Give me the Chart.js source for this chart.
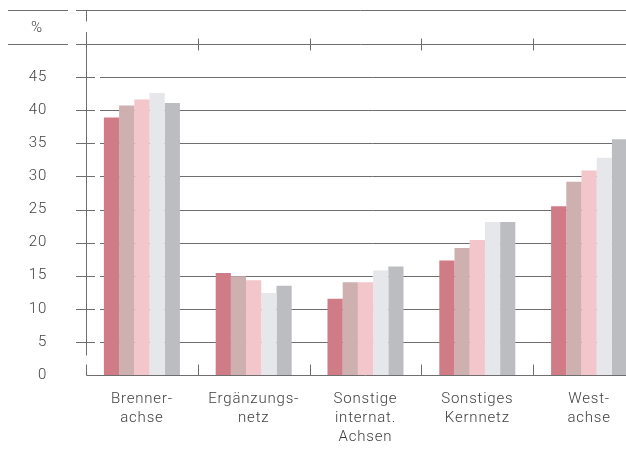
<!DOCTYPE html>
<html lang="de">
  <head>
    <meta charset="UTF-8" />
    <title>Anteile nach Achsen</title>
    <script src="https://cdn.jsdelivr.net/npm/chart.js"></script>
    <style>
      html, body { margin: 0; padding: 0; background: #fff; overflow: hidden; }
      #wrap { width: 645px; height: 454px; }
    </style>
  </head>
  <body>
    <div id="wrap"><canvas id="chart" width="645" height="454"></canvas></div>
    <script>
      // categories and series (five bars per group)
      const categories = [
        ['Brenner-', 'achse'],
        ['Ergänzungs-', 'netz'],
        ['Sonstige', 'internat.', 'Achsen'],
        ['Sonstiges', 'Kernnetz'],
        ['West-', 'achse']
      ];
      const series1 = [38.9, 15.4, 11.5, 17.3, 25.5];
      const series2 = [40.7, 14.9, 14.0, 19.2, 29.2];
      const series3 = [41.6, 14.3, 14.0, 20.4, 30.9];
      const series4 = [42.6, 12.4, 15.8, 23.1, 32.8];
      const series5 = [41.1, 13.5, 16.4, 23.1, 35.6];
      const yTicks = [0, 5, 10, 15, 20, 25, 30, 35, 40, 45];
      const unitLabel = '%';

      const colors = ['#d07c87', '#cfb0b1', '#f2c6ca', '#e6e7ea', '#bcbdc1'];
      const lineColor = '#6e6e6e';
      const textColor = '#3f3f3f';

      // rules, axis breaks and category separators
      const framePlugin = {
        id: 'frame',
        beforeDraw(chart) {
          chart.ctx.letterSpacing = '0.8px';
        },
        beforeDatasetsDraw(chart) {
          const ctx = chart.ctx, y = chart.scales.y, a = chart.chartArea;
          ctx.save();
          ctx.strokeStyle = lineColor;
          ctx.lineWidth = 1;
          ctx.beginPath();
          yTicks.forEach(v => {
            if (v === 0) return;
            const py = Math.round(y.getPixelForValue(v)) + 0.5;
            ctx.moveTo(a.left - 10, py); ctx.lineTo(a.left + 9, py);
            ctx.moveTo(a.left + 14, py); ctx.lineTo(chart.width, py);
          });
          ctx.stroke();
          ctx.restore();
        },
        afterDatasetsDraw(chart) {
          const ctx = chart.ctx, x = chart.scales.x, a = chart.chartArea;
          const left = Math.round(a.left) + 0.5;
          const top = Math.round(a.top) + 0.5;
          const bottom = Math.round(a.bottom) + 0.5;
          const rule0 = top - 34;
          ctx.save();
          ctx.strokeStyle = lineColor;
          ctx.lineWidth = 1;
          ctx.beginPath();
          [rule0, top].forEach(py => {
            ctx.moveTo(8, py); ctx.lineTo(68, py);
            ctx.moveTo(76, py); ctx.lineTo(chart.width, py);
          });
          // y axis with breaks
          ctx.moveTo(left, rule0); ctx.lineTo(left, rule0 + 11);
          ctx.moveTo(left, top - 12.5); ctx.lineTo(left, bottom - 20);
          ctx.moveTo(left, bottom - 11); ctx.lineTo(left, bottom);
          // baseline
          ctx.moveTo(left, bottom); ctx.lineTo(chart.width, bottom);
          // category separators
          const step = (a.right - a.left) / categories.length;
          for (let i = 1; i < categories.length; i++) {
            const px = Math.round(x.getPixelForValue(i) - step / 2) + 0.5;
            ctx.moveTo(px, top - 6); ctx.lineTo(px, top + 6);
            ctx.moveTo(px, bottom - 11); ctx.lineTo(px, bottom);
          }
          ctx.stroke();
          ctx.fillStyle = textColor;
          ctx.font = '300 15px Roboto';
          ctx.textAlign = 'center';
          ctx.textBaseline = 'middle';
          ctx.fillText(unitLabel, 37, 28);
          ctx.restore();
        }
      };

      new Chart(document.getElementById('chart'), {
        type: 'bar',
        data: {
          labels: categories,
          datasets: [series1, series2, series3, series4, series5].map((d, i) => ({
            data: d,
            backgroundColor: colors[i],
            borderWidth: 0,
            categoryPercentage: 0.68,
            barPercentage: 1.0
          }))
        },
        options: {
          responsive: false,
          animation: false,
          layout: { padding: { top: 44, left: 0, right: 0, bottom: 0 } },
          plugins: { legend: { display: false }, tooltip: { enabled: false } },
          scales: {
            x: {
              grid: { display: false, drawTicks: false },
              border: { display: false },
              ticks: {
                color: textColor,
                padding: 14.5,
                maxRotation: 0,
                autoSkip: false,
                font: { family: 'Roboto', size: 15, weight: '300', lineHeight: 1.27 }
              },
              afterFit(scale) { scale.height = 79; scale.paddingLeft = 0; scale.paddingRight = 0; }
            },
            y: {
              min: 0,
              max: 50,
              grid: { display: false, drawTicks: false },
              border: { display: false },
              ticks: {
                stepSize: 5,
                color: textColor,
                padding: 39,
                font: { family: 'Roboto', size: 15, weight: '300' },
                callback: v => (yTicks.includes(v) ? String(v) : '')
              },
              afterFit(scale) { scale.width = 86; scale.paddingTop = 0; scale.paddingBottom = 0; }
            }
          }
        },
        plugins: [framePlugin]
      });
    </script>
  </body>
</html>
